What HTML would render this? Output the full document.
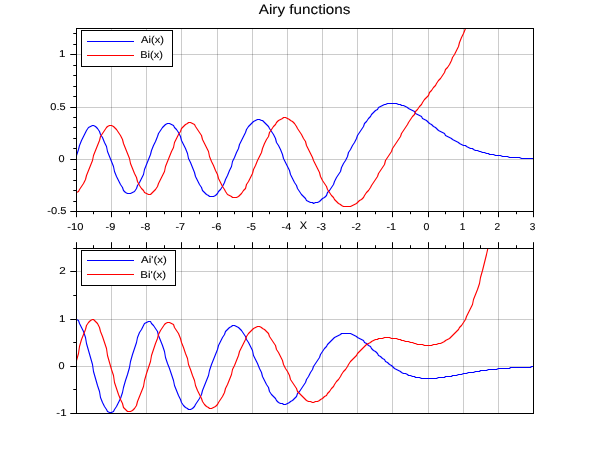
<!DOCTYPE html>
<html><head><meta charset="utf-8"><title>Airy functions</title>
<style>html,body{margin:0;padding:0;background:#fff;}body{width:610px;height:460px;overflow:hidden;}svg{display:block;font-family:"Liberation Sans",sans-serif;}.c{shape-rendering:crispEdges;}text{fill:#000;stroke:#000;stroke-width:0.1px;text-rendering:geometricPrecision;}.t{font-size:10px;}</style></head><body>
<svg width="610" height="460" viewBox="0 0 610 460">
<rect width="610" height="460" fill="#fff"/>
<clipPath id="clip1"><rect x="76.5" y="28.5" width="457" height="183"/></clipPath>
<path class="c" d="M111.5 28.5V211.5M146.5 28.5V211.5M181.5 28.5V211.5M217.5 28.5V211.5M252.5 28.5V211.5M287.5 28.5V211.5M322.5 28.5V211.5M357.5 28.5V211.5M392.5 28.5V211.5M428.5 28.5V211.5M463.5 28.5V211.5M498.5 28.5V211.5" stroke="#000" stroke-opacity="0.2" stroke-width="1" fill="none"/>
<path class="c" d="M76.5 159.5H533.5M76.5 107.5H533.5M76.5 54.5H533.5" stroke="#000" stroke-opacity="0.2" stroke-width="1" fill="none"/>
<polyline clip-path="url(#clip1)" points="76.5,155.5 78.5,149.5 79.5,145.5 81.5,140.5 83.5,136.5 85.5,132.5 86.5,130.5 88.5,127.5 90.5,126.5 92.5,125.5 93.5,125.5 95.5,126.5 97.5,128.5 99.5,131.5 100.5,134.5 102.5,137.5 104.5,142.5 106.5,146.5 107.5,151.5 109.5,156.5 111.5,161.5 113.5,166.5 114.5,171.5 116.5,176.5 118.5,180.5 120.5,184.5 122.5,187.5 123.5,190.5 125.5,192.5 127.5,193.5 129.5,193.5 130.5,193.5 132.5,192.5 134.5,191.5 136.5,188.5 137.5,185.5 139.5,182.5 141.5,178.5 143.5,174.5 144.5,169.5 146.5,164.5 148.5,159.5 150.5,154.5 151.5,150.5 153.5,145.5 155.5,141.5 157.5,136.5 158.5,133.5 160.5,130.5 162.5,127.5 164.5,125.5 165.5,124.5 167.5,123.5 169.5,123.5 171.5,124.5 173.5,125.5 174.5,127.5 176.5,129.5 178.5,132.5 180.5,136.5 181.5,140.5 183.5,144.5 185.5,148.5 187.5,153.5 188.5,158.5 190.5,162.5 192.5,167.5 194.5,172.5 195.5,176.5 197.5,180.5 199.5,184.5 201.5,187.5 202.5,190.5 204.5,192.5 206.5,194.5 208.5,195.5 209.5,196.5 211.5,196.5 213.5,196.5 215.5,195.5 217.5,193.5 218.5,191.5 220.5,189.5 222.5,186.5 224.5,182.5 225.5,179.5 227.5,175.5 229.5,170.5 231.5,166.5 232.5,161.5 234.5,157.5 236.5,152.5 238.5,148.5 239.5,144.5 241.5,140.5 243.5,136.5 245.5,132.5 246.5,129.5 248.5,126.5 250.5,124.5 252.5,122.5 253.5,121.5 255.5,120.5 257.5,119.5 259.5,119.5 261.5,120.5 262.5,120.5 264.5,122.5 266.5,124.5 268.5,126.5 269.5,128.5 271.5,131.5 273.5,134.5 275.5,138.5 276.5,142.5 278.5,145.5 280.5,149.5 282.5,154.5 283.5,158.5 285.5,162.5 287.5,166.5 289.5,170.5 290.5,174.5 292.5,178.5 294.5,182.5 296.5,185.5 297.5,188.5 299.5,191.5 301.5,194.5 303.5,196.5 305.5,198.5 306.5,200.5 308.5,201.5 310.5,202.5 312.5,202.5 313.5,203.5 315.5,202.5 317.5,202.5 319.5,201.5 320.5,200.5 322.5,198.5 324.5,197.5 326.5,195.5 327.5,192.5 329.5,190.5 331.5,187.5 333.5,184.5 334.5,181.5 336.5,177.5 338.5,174.5 340.5,171.5 341.5,167.5 343.5,163.5 345.5,160.5 347.5,156.5 348.5,152.5 350.5,149.5 352.5,145.5 354.5,142.5 356.5,138.5 357.5,135.5 359.5,132.5 361.5,129.5 363.5,126.5 364.5,123.5 366.5,121.5 368.5,118.5 370.5,116.5 371.5,114.5 373.5,112.5 375.5,110.5 377.5,109.5 378.5,107.5 380.5,106.5 382.5,105.5 384.5,104.5 385.5,104.5 387.5,103.5 389.5,103.5 391.5,103.5 392.5,103.5 394.5,103.5 396.5,103.5 398.5,104.5 400.5,104.5 401.5,105.5 403.5,105.5 405.5,106.5 407.5,107.5 408.5,108.5 410.5,109.5 412.5,110.5 414.5,111.5 415.5,113.5 417.5,114.5 419.5,115.5 421.5,116.5 422.5,118.5 424.5,119.5 426.5,120.5 428.5,122.5 429.5,123.5 431.5,124.5 433.5,126.5 435.5,127.5 436.5,128.5 438.5,130.5 440.5,131.5 442.5,132.5 444.5,133.5 445.5,135.5 447.5,136.5 449.5,137.5 451.5,138.5 452.5,139.5 454.5,140.5 456.5,141.5 458.5,142.5 459.5,143.5 461.5,144.5 463.5,145.5 465.5,145.5 466.5,146.5 468.5,147.5 470.5,148.5 472.5,148.5 473.5,149.5 475.5,150.5 477.5,150.5 479.5,151.5 480.5,151.5 482.5,152.5 484.5,152.5 486.5,153.5 488.5,153.5 489.5,154.5 491.5,154.5 493.5,154.5 495.5,155.5 496.5,155.5 498.5,155.5 500.5,155.5 502.5,156.5 503.5,156.5 505.5,156.5 507.5,156.5 509.5,157.5 510.5,157.5 512.5,157.5 514.5,157.5 516.5,157.5 517.5,157.5 519.5,157.5 521.5,158.5 523.5,158.5 524.5,158.5 526.5,158.5 528.5,158.5 530.5,158.5 531.5,158.5 533.5,158.5" fill="none" stroke="#0000ff" stroke-width="1.12" stroke-linejoin="round"/>
<polyline clip-path="url(#clip1)" points="76.5,192.5 78.5,191.5 79.5,189.5 81.5,186.5 83.5,183.5 85.5,179.5 86.5,175.5 88.5,170.5 90.5,165.5 92.5,160.5 93.5,155.5 95.5,150.5 97.5,145.5 99.5,140.5 100.5,136.5 102.5,133.5 104.5,130.5 106.5,127.5 107.5,126.5 109.5,125.5 111.5,125.5 113.5,126.5 114.5,127.5 116.5,129.5 118.5,132.5 120.5,135.5 122.5,139.5 123.5,143.5 125.5,148.5 127.5,153.5 129.5,158.5 130.5,163.5 132.5,168.5 134.5,173.5 136.5,177.5 137.5,181.5 139.5,185.5 141.5,188.5 143.5,190.5 144.5,192.5 146.5,193.5 148.5,194.5 150.5,194.5 151.5,193.5 153.5,191.5 155.5,189.5 157.5,186.5 158.5,183.5 160.5,179.5 162.5,175.5 164.5,171.5 165.5,166.5 167.5,161.5 169.5,156.5 171.5,151.5 173.5,147.5 174.5,142.5 176.5,138.5 178.5,134.5 180.5,131.5 181.5,128.5 183.5,126.5 185.5,124.5 187.5,123.5 188.5,122.5 190.5,122.5 192.5,123.5 194.5,124.5 195.5,126.5 197.5,129.5 199.5,132.5 201.5,135.5 202.5,139.5 204.5,143.5 206.5,147.5 208.5,151.5 209.5,156.5 211.5,161.5 213.5,165.5 215.5,170.5 217.5,174.5 218.5,178.5 220.5,182.5 222.5,186.5 224.5,189.5 225.5,191.5 227.5,194.5 229.5,195.5 231.5,196.5 232.5,197.5 234.5,197.5 236.5,197.5 238.5,196.5 239.5,195.5 241.5,193.5 243.5,190.5 245.5,188.5 246.5,184.5 248.5,181.5 250.5,177.5 252.5,173.5 253.5,169.5 255.5,165.5 257.5,160.5 259.5,156.5 261.5,152.5 262.5,148.5 264.5,143.5 266.5,139.5 268.5,136.5 269.5,132.5 271.5,129.5 273.5,126.5 275.5,124.5 276.5,122.5 278.5,120.5 280.5,119.5 282.5,118.5 283.5,117.5 285.5,117.5 287.5,118.5 289.5,119.5 290.5,120.5 292.5,121.5 294.5,123.5 296.5,126.5 297.5,128.5 299.5,131.5 301.5,134.5 303.5,138.5 305.5,141.5 306.5,145.5 308.5,149.5 310.5,153.5 312.5,157.5 313.5,160.5 315.5,164.5 317.5,168.5 319.5,172.5 320.5,176.5 322.5,180.5 324.5,183.5 326.5,186.5 327.5,189.5 329.5,192.5 331.5,195.5 333.5,197.5 334.5,199.5 336.5,201.5 338.5,203.5 340.5,204.5 341.5,205.5 343.5,206.5 345.5,206.5 347.5,206.5 348.5,206.5 350.5,206.5 352.5,205.5 354.5,204.5 356.5,203.5 357.5,202.5 359.5,200.5 361.5,199.5 363.5,197.5 364.5,195.5 366.5,192.5 368.5,190.5 370.5,187.5 371.5,185.5 373.5,182.5 375.5,179.5 377.5,176.5 378.5,173.5 380.5,170.5 382.5,167.5 384.5,164.5 385.5,160.5 387.5,157.5 389.5,154.5 391.5,151.5 392.5,148.5 394.5,145.5 396.5,142.5 398.5,139.5 400.5,136.5 401.5,133.5 403.5,130.5 405.5,127.5 407.5,124.5 408.5,122.5 410.5,119.5 412.5,116.5 414.5,114.5 415.5,111.5 417.5,109.5 419.5,106.5 421.5,104.5 422.5,102.5 424.5,99.5 426.5,97.5 428.5,95.5 429.5,92.5 431.5,90.5 433.5,87.5 435.5,85.5 436.5,83.5 438.5,80.5 440.5,78.5 442.5,75.5 444.5,72.5 445.5,69.5 447.5,67.5 449.5,64.5 451.5,60.5 452.5,57.5 454.5,54.5 456.5,50.5 458.5,46.5 459.5,42.5 461.5,37.5 463.5,33.5 465.5,28.5 466.5,22.5 468.5,16.5 470.5,10.5 472.5,4.5 473.5,-3.5 475.5,-10.5 477.5,-18.5 479.5,-27.5 480.5,-37.5 482.5,-47.5 484.5,-58.5 486.5,-70.5 488.5,-83.5 489.5,-97.5 491.5,-112.5 493.5,-128.5 495.5,-145.5 496.5,-164.5 498.5,-185.5 500.5,-207.5 502.5,-232.5 503.5,-258.5" fill="none" stroke="#ff0000" stroke-width="1.12" stroke-linejoin="round"/>
<path class="c" d="M76.5 28.5H533.5V211.5H76.5Z" stroke="#000" stroke-width="1" fill="none"/>
<path d="M76.5 211.5V217.2M93.5 211.5V214.2M111.5 211.5V217.2M129.5 211.5V214.2M146.5 211.5V217.2M164.5 211.5V214.2M181.5 211.5V217.2M199.5 211.5V214.2M217.5 211.5V217.2M234.5 211.5V214.2M252.5 211.5V217.2M269.5 211.5V214.2M287.5 211.5V217.2M305.5 211.5V214.2M322.5 211.5V217.2M340.5 211.5V214.2M357.5 211.5V217.2M375.5 211.5V214.2M392.5 211.5V217.2M410.5 211.5V214.2M428.5 211.5V217.2M445.5 211.5V214.2M463.5 211.5V217.2M480.5 211.5V214.2M498.5 211.5V217.2M516.5 211.5V214.2M533.5 211.5V217.2M76.5 201.5H73.25M76.5 190.5H73.25M76.5 180.5H73.25M76.5 169.5H73.25M76.5 148.5H73.25M76.5 138.5H73.25M76.5 127.5H73.25M76.5 117.5H73.25M76.5 96.5H73.25M76.5 86.5H73.25M76.5 75.5H73.25M76.5 65.5H73.25M76.5 44.5H73.25M76.5 33.5H73.25M76.5 211.5H70.25M76.5 159.5H70.25M76.5 107.5H70.25M76.5 54.5H70.25" stroke="#000" stroke-width="1" fill="none"/>
<clipPath id="clip2"><rect x="76.5" y="248.5" width="457" height="165"/></clipPath>
<path class="c" d="M111.5 248.5V413.5M146.5 248.5V413.5M181.5 248.5V413.5M217.5 248.5V413.5M252.5 248.5V413.5M287.5 248.5V413.5M322.5 248.5V413.5M357.5 248.5V413.5M392.5 248.5V413.5M428.5 248.5V413.5M463.5 248.5V413.5M498.5 248.5V413.5" stroke="#000" stroke-opacity="0.2" stroke-width="1" fill="none"/>
<path class="c" d="M76.5 366.5H533.5M76.5 319.5H533.5M76.5 271.5H533.5" stroke="#000" stroke-opacity="0.2" stroke-width="1" fill="none"/>
<polyline clip-path="url(#clip2)" points="76.5,319.5 78.5,320.5 79.5,323.5 81.5,327.5 83.5,331.5 85.5,337.5 86.5,343.5 88.5,350.5 90.5,357.5 92.5,364.5 93.5,371.5 95.5,378.5 97.5,385.5 99.5,391.5 100.5,397.5 102.5,402.5 104.5,406.5 106.5,409.5 107.5,411.5 109.5,412.5 111.5,412.5 113.5,411.5 114.5,409.5 116.5,406.5 118.5,402.5 120.5,398.5 122.5,392.5 123.5,387.5 125.5,380.5 127.5,374.5 129.5,367.5 130.5,361.5 132.5,354.5 134.5,348.5 136.5,342.5 137.5,337.5 139.5,332.5 141.5,329.5 143.5,325.5 144.5,323.5 146.5,322.5 148.5,321.5 150.5,321.5 151.5,323.5 153.5,325.5 155.5,328.5 157.5,331.5 158.5,335.5 160.5,340.5 162.5,345.5 164.5,351.5 165.5,357.5 167.5,363.5 169.5,368.5 171.5,374.5 173.5,380.5 174.5,385.5 176.5,390.5 178.5,395.5 180.5,399.5 181.5,402.5 183.5,405.5 185.5,407.5 187.5,408.5 188.5,409.5 190.5,409.5 192.5,408.5 194.5,406.5 195.5,404.5 197.5,401.5 199.5,398.5 201.5,394.5 202.5,390.5 204.5,385.5 206.5,380.5 208.5,375.5 209.5,370.5 211.5,364.5 213.5,359.5 215.5,354.5 217.5,349.5 218.5,345.5 220.5,341.5 222.5,337.5 224.5,334.5 225.5,331.5 227.5,329.5 229.5,327.5 231.5,326.5 232.5,325.5 234.5,325.5 236.5,326.5 238.5,327.5 239.5,328.5 241.5,330.5 243.5,333.5 245.5,336.5 246.5,339.5 248.5,342.5 250.5,346.5 252.5,350.5 253.5,355.5 255.5,359.5 257.5,363.5 259.5,368.5 261.5,372.5 262.5,376.5 264.5,380.5 266.5,384.5 268.5,387.5 269.5,391.5 271.5,394.5 273.5,396.5 275.5,398.5 276.5,400.5 278.5,402.5 280.5,403.5 282.5,403.5 283.5,404.5 285.5,404.5 287.5,403.5 289.5,402.5 290.5,401.5 292.5,400.5 294.5,398.5 296.5,396.5 297.5,393.5 299.5,391.5 301.5,388.5 303.5,385.5 305.5,382.5 306.5,379.5 308.5,376.5 310.5,372.5 312.5,369.5 313.5,366.5 315.5,363.5 317.5,360.5 319.5,357.5 320.5,354.5 322.5,351.5 324.5,348.5 326.5,346.5 327.5,344.5 329.5,342.5 331.5,340.5 333.5,338.5 334.5,337.5 336.5,336.5 338.5,335.5 340.5,334.5 341.5,333.5 343.5,333.5 345.5,333.5 347.5,333.5 348.5,333.5 350.5,333.5 352.5,334.5 354.5,335.5 356.5,336.5 357.5,337.5 359.5,338.5 361.5,339.5 363.5,340.5 364.5,342.5 366.5,343.5 368.5,345.5 370.5,346.5 371.5,348.5 373.5,350.5 375.5,351.5 377.5,353.5 378.5,355.5 380.5,356.5 382.5,358.5 384.5,359.5 385.5,361.5 387.5,362.5 389.5,364.5 391.5,365.5 392.5,366.5 394.5,368.5 396.5,369.5 398.5,370.5 400.5,371.5 401.5,372.5 403.5,373.5 405.5,373.5 407.5,374.5 408.5,375.5 410.5,375.5 412.5,376.5 414.5,376.5 415.5,377.5 417.5,377.5 419.5,377.5 421.5,378.5 422.5,378.5 424.5,378.5 426.5,378.5 428.5,378.5 429.5,378.5 431.5,378.5 433.5,378.5 435.5,378.5 436.5,378.5 438.5,377.5 440.5,377.5 442.5,377.5 444.5,377.5 445.5,376.5 447.5,376.5 449.5,376.5 451.5,376.5 452.5,375.5 454.5,375.5 456.5,375.5 458.5,374.5 459.5,374.5 461.5,374.5 463.5,373.5 465.5,373.5 466.5,373.5 468.5,372.5 470.5,372.5 472.5,372.5 473.5,372.5 475.5,371.5 477.5,371.5 479.5,371.5 480.5,370.5 482.5,370.5 484.5,370.5 486.5,370.5 488.5,369.5 489.5,369.5 491.5,369.5 493.5,369.5 495.5,369.5 496.5,369.5 498.5,368.5 500.5,368.5 502.5,368.5 503.5,368.5 505.5,368.5 507.5,368.5 509.5,368.5 510.5,367.5 512.5,367.5 514.5,367.5 516.5,367.5 517.5,367.5 519.5,367.5 521.5,367.5 523.5,367.5 524.5,367.5 526.5,367.5 528.5,367.5 530.5,367.5 531.5,366.5 533.5,366.5" fill="none" stroke="#0000ff" stroke-width="1.12" stroke-linejoin="round"/>
<polyline clip-path="url(#clip2)" points="76.5,360.5 78.5,353.5 79.5,346.5 81.5,339.5 83.5,334.5 85.5,329.5 86.5,325.5 88.5,322.5 90.5,320.5 92.5,319.5 93.5,319.5 95.5,321.5 97.5,323.5 99.5,327.5 100.5,331.5 102.5,336.5 104.5,342.5 106.5,348.5 107.5,355.5 109.5,362.5 111.5,369.5 113.5,375.5 114.5,382.5 116.5,388.5 118.5,394.5 120.5,399.5 122.5,403.5 123.5,407.5 125.5,409.5 127.5,411.5 129.5,411.5 130.5,411.5 132.5,410.5 134.5,408.5 136.5,405.5 137.5,401.5 139.5,396.5 141.5,391.5 143.5,386.5 144.5,380.5 146.5,373.5 148.5,367.5 150.5,361.5 151.5,355.5 153.5,349.5 155.5,343.5 157.5,338.5 158.5,334.5 160.5,330.5 162.5,327.5 164.5,324.5 165.5,323.5 167.5,322.5 169.5,322.5 171.5,323.5 173.5,324.5 174.5,327.5 176.5,330.5 178.5,333.5 180.5,338.5 181.5,342.5 183.5,347.5 185.5,353.5 187.5,358.5 188.5,364.5 190.5,369.5 192.5,375.5 194.5,380.5 195.5,385.5 197.5,390.5 199.5,394.5 201.5,398.5 202.5,401.5 204.5,404.5 206.5,406.5 208.5,407.5 209.5,408.5 211.5,408.5 213.5,407.5 215.5,406.5 217.5,404.5 218.5,402.5 220.5,399.5 222.5,396.5 224.5,392.5 225.5,388.5 227.5,384.5 229.5,379.5 231.5,374.5 232.5,369.5 234.5,365.5 236.5,360.5 238.5,355.5 239.5,351.5 241.5,347.5 243.5,343.5 245.5,339.5 246.5,336.5 248.5,333.5 250.5,331.5 252.5,329.5 253.5,328.5 255.5,327.5 257.5,326.5 259.5,326.5 261.5,327.5 262.5,328.5 264.5,329.5 266.5,331.5 268.5,333.5 269.5,336.5 271.5,339.5 273.5,342.5 275.5,345.5 276.5,349.5 278.5,352.5 280.5,356.5 282.5,360.5 283.5,364.5 285.5,368.5 287.5,371.5 289.5,375.5 290.5,379.5 292.5,382.5 294.5,385.5 296.5,388.5 297.5,391.5 299.5,393.5 301.5,395.5 303.5,397.5 305.5,399.5 306.5,400.5 308.5,401.5 310.5,401.5 312.5,402.5 313.5,402.5 315.5,401.5 317.5,401.5 319.5,400.5 320.5,399.5 322.5,398.5 324.5,396.5 326.5,395.5 327.5,393.5 329.5,391.5 331.5,388.5 333.5,386.5 334.5,384.5 336.5,381.5 338.5,379.5 340.5,376.5 341.5,374.5 343.5,371.5 345.5,369.5 347.5,366.5 348.5,364.5 350.5,361.5 352.5,359.5 354.5,357.5 356.5,355.5 357.5,353.5 359.5,351.5 361.5,349.5 363.5,347.5 364.5,346.5 366.5,344.5 368.5,343.5 370.5,342.5 371.5,341.5 373.5,340.5 375.5,339.5 377.5,339.5 378.5,338.5 380.5,338.5 382.5,338.5 384.5,337.5 385.5,337.5 387.5,337.5 389.5,337.5 391.5,338.5 392.5,338.5 394.5,338.5 396.5,338.5 398.5,339.5 400.5,339.5 401.5,340.5 403.5,340.5 405.5,341.5 407.5,341.5 408.5,341.5 410.5,342.5 412.5,342.5 414.5,343.5 415.5,343.5 417.5,344.5 419.5,344.5 421.5,344.5 422.5,344.5 424.5,345.5 426.5,345.5 428.5,345.5 429.5,345.5 431.5,345.5 433.5,344.5 435.5,344.5 436.5,344.5 438.5,343.5 440.5,343.5 442.5,342.5 444.5,341.5 445.5,340.5 447.5,339.5 449.5,338.5 451.5,336.5 452.5,335.5 454.5,333.5 456.5,331.5 458.5,329.5 459.5,327.5 461.5,325.5 463.5,322.5 465.5,319.5 466.5,316.5 468.5,312.5 470.5,308.5 472.5,304.5 473.5,299.5 475.5,294.5 477.5,289.5 479.5,283.5 480.5,277.5 482.5,270.5 484.5,262.5 486.5,254.5 488.5,245.5 489.5,235.5 491.5,225.5 493.5,213.5 495.5,201.5 496.5,187.5 498.5,172.5 500.5,156.5 502.5,138.5 503.5,119.5" fill="none" stroke="#ff0000" stroke-width="1.12" stroke-linejoin="round"/>
<path class="c" d="M76.5 248.5H533.5V413.5H76.5Z" stroke="#000" stroke-width="1" fill="none"/>
<path d="M76.5 248.5V242.2M93.5 248.5V245.2M111.5 248.5V242.2M129.5 248.5V245.2M146.5 248.5V242.2M164.5 248.5V245.2M181.5 248.5V242.2M199.5 248.5V245.2M217.5 248.5V242.2M234.5 248.5V245.2M252.5 248.5V242.2M269.5 248.5V245.2M287.5 248.5V242.2M305.5 248.5V245.2M322.5 248.5V242.2M340.5 248.5V245.2M357.5 248.5V242.2M375.5 248.5V245.2M392.5 248.5V242.2M410.5 248.5V245.2M428.5 248.5V242.2M445.5 248.5V245.2M463.5 248.5V242.2M480.5 248.5V245.2M498.5 248.5V242.2M516.5 248.5V245.2M533.5 248.5V242.2M76.5 389.5H73.25M76.5 342.5H73.25M76.5 295.5H73.25M76.5 248.5H73.25M76.5 413.5H70.25M76.5 366.5H70.25M76.5 319.5H70.25M76.5 271.5H70.25" stroke="#000" stroke-width="1" fill="none"/>
<g style="filter:grayscale(1)">
<text x="47.3" y="213.8" font-size="10" textLength="19.15" lengthAdjust="spacingAndGlyphs">-0.5</text>
<text x="58.56" y="161.8" font-size="10" textLength="6.06" lengthAdjust="spacingAndGlyphs">0</text>
<text x="50.36" y="109.8" font-size="10" textLength="15.28" lengthAdjust="spacingAndGlyphs">0.5</text>
<text x="59.13" y="56.8" font-size="10" textLength="6.43" lengthAdjust="spacingAndGlyphs">1</text>
<text x="56.38" y="415.8" font-size="10" textLength="10.18" lengthAdjust="spacingAndGlyphs">-1</text>
<text x="58.56" y="368.8" font-size="10" textLength="6.06" lengthAdjust="spacingAndGlyphs">0</text>
<text x="59.13" y="321.8" font-size="10" textLength="6.43" lengthAdjust="spacingAndGlyphs">1</text>
<text x="59.32" y="273.8" font-size="10" textLength="6.48" lengthAdjust="spacingAndGlyphs">2</text>
<text x="67.33" y="229.8" font-size="10" textLength="16.1" lengthAdjust="spacingAndGlyphs">-10</text>
<text x="105.52" y="229.8" font-size="10" textLength="9.76" lengthAdjust="spacingAndGlyphs">-9</text>
<text x="140.52" y="229.8" font-size="10" textLength="9.75" lengthAdjust="spacingAndGlyphs">-8</text>
<text x="175.53" y="229.8" font-size="10" textLength="9.65" lengthAdjust="spacingAndGlyphs">-7</text>
<text x="211.52" y="229.8" font-size="10" textLength="9.81" lengthAdjust="spacingAndGlyphs">-6</text>
<text x="246.53" y="229.8" font-size="10" textLength="9.53" lengthAdjust="spacingAndGlyphs">-5</text>
<text x="281.52" y="229.8" font-size="10" textLength="9.71" lengthAdjust="spacingAndGlyphs">-4</text>
<text x="316.53" y="229.8" font-size="10" textLength="9.61" lengthAdjust="spacingAndGlyphs">-3</text>
<text x="351.53" y="229.8" font-size="10" textLength="9.48" lengthAdjust="spacingAndGlyphs">-2</text>
<text x="386.53" y="229.8" font-size="10" textLength="9.56" lengthAdjust="spacingAndGlyphs">-1</text>
<text x="423.55" y="229.8" font-size="10" textLength="5.88" lengthAdjust="spacingAndGlyphs">0</text>
<text x="459.66" y="229.8" font-size="10" textLength="5.59" lengthAdjust="spacingAndGlyphs">1</text>
<text x="494.54" y="229.8" font-size="10" textLength="5.65" lengthAdjust="spacingAndGlyphs">2</text>
<text x="529.69" y="229.8" font-size="10" textLength="5.62" lengthAdjust="spacingAndGlyphs">3</text>
<text x="299.81" y="229" font-size="11" textLength="7.34" lengthAdjust="spacingAndGlyphs">X</text>
<text x="258.75" y="13.85" font-size="13.8" textLength="91.65" lengthAdjust="spacingAndGlyphs">Airy functions</text>
</g>
<rect class="c" x="81.5" y="30.5" width="91" height="36" fill="#fff" stroke="#000" stroke-width="1"/>
<path class="c" d="M87 41.5H134" stroke="#0000ff" stroke-width="1"/>
<path class="c" d="M87 55.5H134" stroke="#ff0000" stroke-width="1"/>
<g style="filter:grayscale(1)">
<text x="141.12" y="43" font-size="10" textLength="22.77" lengthAdjust="spacingAndGlyphs">Ai(x)</text>
<text x="140.24" y="58" font-size="10" textLength="22.65" lengthAdjust="spacingAndGlyphs">Bi(x)</text>
</g>
<rect class="c" x="81.5" y="250.5" width="94" height="35" fill="#fff" stroke="#000" stroke-width="1"/>
<path class="c" d="M87 260.5H134" stroke="#0000ff" stroke-width="1"/>
<path class="c" d="M87 274.5H134" stroke="#ff0000" stroke-width="1"/>
<g style="filter:grayscale(1)">
<text x="141.12" y="263" font-size="10" textLength="25.71" lengthAdjust="spacingAndGlyphs">Ai'(x)</text>
<text x="140.2" y="278" font-size="10" textLength="25.94" lengthAdjust="spacingAndGlyphs">Bi'(x)</text>
</g>
</svg></body></html>
